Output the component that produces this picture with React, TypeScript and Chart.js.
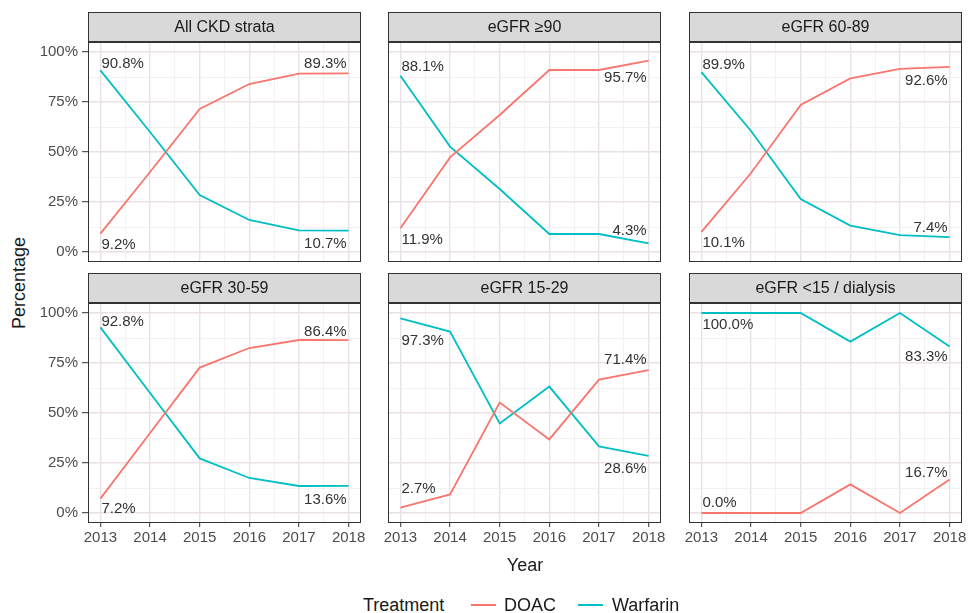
import React, { useEffect, useRef } from 'react';
import { Chart, registerables } from 'chart.js';

Chart.register(...registerables);

// ---------- data ----------
const YEARS = [2013, 2014, 2015, 2016, 2017, 2018];
const PANEL_TITLES = ['All CKD strata', 'eGFR \u226590', 'eGFR 60-89', 'eGFR 30-59', 'eGFR 15-29', 'eGFR <15 / dialysis'];
const SERIES_NAMES = ['DOAC', 'Warfarin'];

const doacAll = [9.2, 40.0, 71.5, 84.0, 89.2, 89.3];
const warfarinAll = [90.8, 60.0, 28.5, 16.0, 10.8, 10.7];
const doac90 = [11.9, 47.3, 68.5, 91.0, 91.0, 95.7];
const warfarin90 = [88.1, 52.7, 31.5, 9.0, 9.0, 4.3];
const doac6089 = [10.1, 39.5, 73.5, 86.8, 91.6, 92.6];
const warfarin6089 = [89.9, 60.5, 26.5, 13.2, 8.4, 7.4];
const doac3059 = [7.2, 40.0, 72.7, 82.5, 86.5, 86.4];
const warfarin3059 = [92.8, 60.0, 27.3, 17.5, 13.5, 13.6];
const doac1529 = [2.7, 9.3, 55.2, 36.8, 66.7, 71.4];
const warfarin1529 = [97.3, 90.7, 44.8, 63.2, 33.3, 28.6];
const doac15 = [0.0, 0.0, 0.0, 14.3, 0.0, 16.7];
const warfarin15 = [100.0, 100.0, 100.0, 85.7, 100.0, 83.3];

const Y_TICKS = [0, 12.5, 25, 37.5, 50, 62.5, 75, 87.5, 100];
const X_TICKS = [2013, 2013.5, 2014, 2014.5, 2015, 2015.5, 2016, 2016.5, 2017, 2017.5, 2018];

// ---------- styling ----------
const COLORS = ['#F8766D', '#00BFC4'];
const FONT = '"Liberation Sans", Arial, Helvetica, sans-serif';
const STRIP_H = 30;
const PANEL_H = 220;
const PANEL_W = 273;
const COL_LEFT = [88, 388, 689];
const ROW_TOP = [12, 273];
const MAJOR_GRID = 'rgb(234,225,229)';
const MINOR_GRID = 'rgb(242,236,239)';

// label nudges in px: positive = above the point, negative = below
// order per panel: [doacFirst, warfarinFirst, doacLast, warfarinLast]
const LABEL_NUDGE = [
  [-4.5, 2, 5, -6.7],
  [-5, 5, -11, 8],
  [-4, 3, -7, 5.5],
  [-4, 1, 4.5, -7],
  [14.6, -15.6, 6, -6.5],
  [6, -5, 3, -4],
];

const PANEL_DATA = [
  [doacAll, warfarinAll],
  [doac90, warfarin90],
  [doac6089, warfarin6089],
  [doac3059, warfarin3059],
  [doac1529, warfarin1529],
  [doac15, warfarin15],
];

function Panel({ index }: { index: number }) {
  const ref = useRef<HTMLCanvasElement | null>(null);
  const col = index % 3;
  const row = Math.floor(index / 3);
  const padL = col === 0 ? 58 : 22;
  const padR = 22;
  const padB = row === 1 ? 30 : 6;
  const width = padL + PANEL_W + padR;
  const height = STRIP_H + PANEL_H + padB;
  const left = COL_LEFT[col] - padL;
  const top = ROW_TOP[row];

  useEffect(() => {
    const series = PANEL_DATA[index];
    const nudges = LABEL_NUDGE[index];
    const title = PANEL_TITLES[index];

    const facetPlugin = {
      id: 'facet' + index,
      afterDatasetsDraw(chart: any) {
        const ctx = chart.ctx;
        const xs = chart.scales.x;
        const ys = chart.scales.y;
        const fs = 15;
        const cap = fs * 0.716;
        ctx.save();
        ctx.font = `${fs}px ${FONT}`;
        ctx.fillStyle = '#333333';
        ctx.textBaseline = 'alphabetic';
        const put = (vals: number[], i: number, nudge: number, align: 'left' | 'right') => {
          const px = xs.getPixelForValue(YEARS[i]);
          const py = ys.getPixelForValue(vals[i]);
          const ty = nudge >= 0 ? py - nudge : py - nudge + cap;
          ctx.textAlign = align;
          ctx.fillText(vals[i].toFixed(1) + '%', align === 'left' ? px + 1 : px - 2, ty);
        };
        const last = YEARS.length - 1;
        put(series[0], 0, nudges[0], 'left');
        put(series[1], 0, nudges[1], 'left');
        put(series[0], last, nudges[2], 'right');
        put(series[1], last, nudges[3], 'right');
        ctx.restore();
      },
      afterDraw(chart: any) {
        const ctx = chart.ctx;
        const a = chart.chartArea;
        const L = Math.round(a.left);
        const T = Math.round(a.top);
        const W = Math.round(a.right - a.left);
        const H = Math.round(a.bottom - a.top);
        ctx.save();
        // strip
        ctx.fillStyle = '#D9D9D9';
        ctx.fillRect(L, T - STRIP_H, W, STRIP_H);
        ctx.strokeStyle = '#333333';
        ctx.lineWidth = 1;
        ctx.strokeRect(L + 0.5, T - STRIP_H + 0.5, W - 1, STRIP_H);
        ctx.fillStyle = '#1A1A1A';
        ctx.font = `16px ${FONT}`;
        ctx.textAlign = 'center';
        ctx.textBaseline = 'middle';
        ctx.fillText(title, L + W / 2, T - STRIP_H / 2 + 1);
        // panel border
        ctx.strokeRect(L + 0.5, T + 0.5, W - 1, H - 1);
        // thicker seam between strip and panel
        ctx.beginPath();
        ctx.moveTo(L, T - 0.5);
        ctx.lineTo(L + W, T - 0.5);
        ctx.stroke();
        ctx.restore();
      },
    };

    const isMajorY = (v: number) => v % 25 === 0;
    const isMajorX = (v: number) => Number.isInteger(v);

    const chart = new Chart(ref.current as HTMLCanvasElement, {
      type: 'line',
      data: {
        datasets: series.map((vals, s) => ({
          label: SERIES_NAMES[s],
          data: YEARS.map((yr, i) => ({ x: yr, y: vals[i] })),
          borderColor: COLORS[s],
          backgroundColor: COLORS[s],
          borderWidth: 1.8,
          pointRadius: 0,
          tension: 0,
          fill: false,
        })),
      },
      options: {
        animation: false,
        responsive: false,
        maintainAspectRatio: false,
        devicePixelRatio: 1,
        events: [],
        layout: {
          padding: {
            left: col === 0 ? 0 : padL,
            right: padR,
            top: STRIP_H,
            bottom: row === 1 ? 0 : padB,
          },
        },
        plugins: {
          legend: { display: false },
          tooltip: { enabled: false },
          title: { display: false },
        },
        scales: {
          x: {
            type: 'linear',
            min: 2012.75,
            max: 2018.25,
            afterBuildTicks: (scale: any) => {
              scale.ticks = X_TICKS.map((v) => ({ value: v }));
            },
            afterFit: (scale: any) => {
              scale.height = row === 1 ? padB : 0;
              scale.paddingLeft = 0;
              scale.paddingRight = 0;
              scale.paddingTop = 0;
              scale.paddingBottom = 0;
            },
            border: { display: false },
            grid: {
              display: true,
              drawOnChartArea: true,
              drawTicks: row === 1,
              tickLength: 4,
              color: (c: any) => (c.tick && isMajorX(c.tick.value) ? MAJOR_GRID : MINOR_GRID),
              lineWidth: (c: any) => (c.tick && isMajorX(c.tick.value) ? 1.4 : 0.8),
              tickColor: (c: any) => (c.tick && isMajorX(c.tick.value) ? '#333333' : 'rgba(0,0,0,0)'),
              tickWidth: 1,
            },
            ticks: {
              display: row === 1,
              autoSkip: false,
              maxRotation: 0,
              minRotation: 0,
              padding: 2,
              color: '#4D4D4D',
              font: { family: FONT, size: 15 },
              callback: (v: any) => (isMajorX(Number(v)) ? String(v) : ''),
            },
          },
          y: {
            type: 'linear',
            min: -5,
            max: 105,
            afterBuildTicks: (scale: any) => {
              scale.ticks = Y_TICKS.map((v) => ({ value: v }));
            },
            afterFit: (scale: any) => {
              scale.width = col === 0 ? padL : 0;
              scale.paddingLeft = 0;
              scale.paddingRight = 0;
              scale.paddingTop = 0;
              scale.paddingBottom = 0;
            },
            border: { display: false },
            grid: {
              display: true,
              drawOnChartArea: true,
              drawTicks: col === 0,
              tickLength: 6,
              color: (c: any) => (c.tick && isMajorY(c.tick.value) ? MAJOR_GRID : MINOR_GRID),
              lineWidth: (c: any) => (c.tick && isMajorY(c.tick.value) ? 1.4 : 0.8),
              tickColor: (c: any) => (c.tick && isMajorY(c.tick.value) ? '#333333' : 'rgba(0,0,0,0)'),
              tickWidth: 1,
            },
            ticks: {
              display: col === 0,
              autoSkip: false,
              padding: 4,
              color: '#4D4D4D',
              font: { family: FONT, size: 15 },
              callback: (v: any) => (isMajorY(Number(v)) ? `${v}%` : ''),
            },
          },
        },
      },
      plugins: [facetPlugin],
    } as any);
    return () => chart.destroy();
  }, [index]);

  return (
    <canvas
      ref={ref}
      width={width}
      height={height}
      style={{ position: 'absolute', left, top, width, height }}
    />
  );
}

const textBase: React.CSSProperties = {
  position: 'absolute',
  fontFamily: FONT,
  fontSize: 18,
  lineHeight: '20px',
  color: '#1A1A1A',
  whiteSpace: 'nowrap',
};

export default function App() {
  return (
    <div style={{ position: 'absolute', left: 0, top: 0, width: 968, height: 613, background: '#FFFFFF', overflow: 'hidden' }}>
      {PANEL_TITLES.map((_, i) => (
        <Panel key={i} index={i} />
      ))}
      <div
        style={{
          ...textBase,
          left: 18.5 - 100,
          top: 282.5 - 10,
          width: 200,
          textAlign: 'center',
          transform: 'rotate(-90deg)',
        }}
      >
        Percentage
      </div>
      <div style={{ ...textBase, left: 425, top: 555, width: 200, textAlign: 'center' }}>Year</div>
      <div style={{ ...textBase, left: 363, top: 595 }}>Treatment</div>
      <div style={{ position: 'absolute', left: 471, top: 604, width: 25, height: 2, background: COLORS[0] }} />
      <div style={{ ...textBase, left: 504, top: 595 }}>{SERIES_NAMES[0]}</div>
      <div style={{ position: 'absolute', left: 578, top: 604, width: 25, height: 2, background: COLORS[1] }} />
      <div style={{ ...textBase, left: 612, top: 595 }}>{SERIES_NAMES[1]}</div>
    </div>
  );
}
